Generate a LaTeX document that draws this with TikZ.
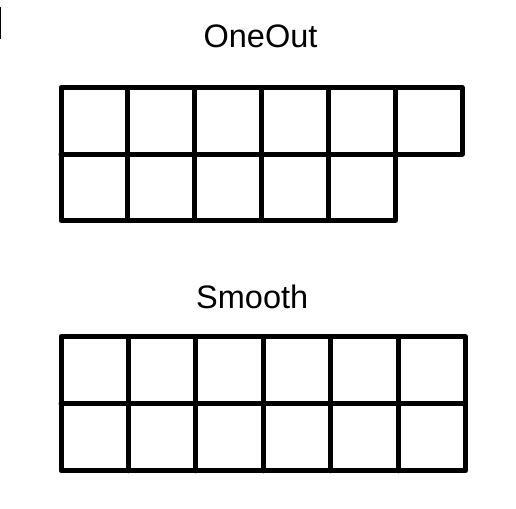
\documentclass[tikz,border=0pt]{standalone}
\usepackage{fontspec}
\setmainfont{Liberation Sans}
\begin{document}
\begin{tikzpicture}[x=1pt,y=-1pt,
  gridline/.style={line width=5pt,line join=round,line cap=round},
  title/.style={font=\fontsize{32.5}{38}\selectfont,anchor=base,inner sep=0pt}]
\useasboundingbox (0,0) rectangle (516,508);
% small mark at top-left
\draw[line width=1pt] (0.5,7) -- (0.5,39);
% titles
\node[title] (t1) at (260.5,47.8) {OneOut};
\node[title] (t2) at (252.2,308) {Smooth};
% top grid (OneOut)
\draw[gridline] (61,87.5) -- (462,87.5) -- (462,154) -- (395.2,154) -- (395.2,220.5) -- (61,220.5) -- cycle;
\draw[gridline] (61,154) -- (395.2,154);
\foreach \x in {127.8,194.7,261.5,328.3}
  \draw[gridline] (\x,87.5) -- (\x,220.5);
\draw[gridline] (395.2,87.5) -- (395.2,154);
% bottom grid (Smooth)
\draw[gridline] (61,336.5) rectangle (465.4,470.8);
\draw[gridline] (61,403.7) -- (465.4,403.7);
\foreach \x in {128.4,195.8,263.2,330.6,398}
  \draw[gridline] (\x,336.5) -- (\x,470.8);
\end{tikzpicture}
\end{document}
